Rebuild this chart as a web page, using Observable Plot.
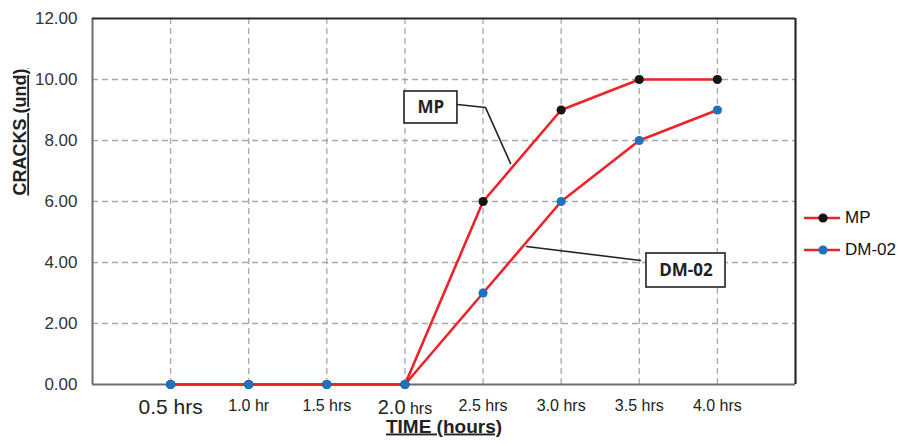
<!DOCTYPE html>
<html>
<head>
<meta charset="utf-8">
<script src="https://cdn.jsdelivr.net/npm/d3@7"></script>
<script src="https://cdn.jsdelivr.net/npm/@observablehq/plot@0.6"></script>
<style>
  html, body { margin: 0; padding: 0; background: #fff; }
  #wrap { position: relative; width: 898px; height: 446px; font-family: "Liberation Sans", Arial, sans-serif; }
  .axtitle text { text-decoration: underline; }
  #legend { position: absolute; left: 803px; top: 202px; font-family: "Liberation Sans", Arial, sans-serif; font-size: 17px; color: #111; }
  #legend .row { display: flex; align-items: center; height: 32px; }
  #legend svg { margin-right: 4px; }
</style>
</head>
<body>
<div id="wrap"></div>
<script>
// ---- data ----
const times = [0.5, 1.0, 1.5, 2.0, 2.5, 3.0, 3.5, 4.0];
const timeLabels = ["0.5 hrs", "1.0 hr", "1.5 hrs", "2.0 hrs", "2.5 hrs", "3.0 hrs", "3.5 hrs", "4.0 hrs"];
const mpValues = [0, 0, 0, 0, 6, 9, 10, 10];
const dm02Values = [0, 0, 0, 0, 3, 6, 8, 9];
const yTicks = [0, 2, 4, 6, 8, 10, 12];
const seriesNames = ["MP", "DM-02"];

// callout annotations (data coordinates)
const calloutLabels = ["MP", "DM-02"];
const calloutX1 = [1.997, 3.546];
const calloutX2 = [2.336, 4.052];
const calloutY1 = [8.557, 3.18];
const calloutY2 = [9.607, 4.295];
const leaderMPx = [2.336, 2.516, 2.676];
const leaderMPy = [9.18, 9.08, 7.246];
const leaderDMx = [3.508, 2.778];
const leaderDMy = [4.066, 4.525];

const mpData = times.map((t, i) => ({t, v: mpValues[i]}));
const dmData = times.map((t, i) => ({t, v: dm02Values[i]}));
const callouts = calloutLabels.map((l, i) => ({l, x1: calloutX1[i], x2: calloutX2[i], y1: calloutY1[i], y2: calloutY2[i]}));
const leaderMP = leaderMPx.map((x, i) => ({x, y: leaderMPy[i]}));
const leaderDM = leaderDMx.map((x, i) => ({x, y: leaderDMy[i]}));

const RED = "#ee2229", BLUE = "#1f72bd", BLACK = "#151515";
const grid = {stroke: "#a8a8a8", strokeWidth: 1.3, strokeDasharray: "6,4", strokeOpacity: 1};

const chart = Plot.plot({
  width: 898,
  height: 446,
  marginTop: 18,
  marginRight: 103,
  marginBottom: 62,
  marginLeft: 92,
  style: {fontFamily: "'Liberation Sans', Arial, sans-serif", background: "#fff", overflow: "visible"},
  x: {type: "linear", domain: [0, 4.5], ticks: times, tickFormat: d => timeLabels[times.indexOf(d)], tickSize: 0, tickPadding: 15, label: null},
  y: {domain: [0, 12], ticks: yTicks, tickFormat: d => d.toFixed(2), tickSize: 0, tickPadding: 15, label: null},
  marks: [
    Plot.ruleX(times, {...grid}),
    Plot.ruleY(yTicks.slice(1, -1), {...grid}),
    Plot.ruleX([0], {stroke: "#6e6e6e", strokeWidth: 2}),
    Plot.ruleY([0], {stroke: "#6e6e6e", strokeWidth: 2}),
    Plot.ruleY([12], {stroke: "#2a2a2a", strokeWidth: 2.2}),
    Plot.ruleX([4.5], {stroke: "#2a2a2a", strokeWidth: 2.2}),
    Plot.line(leaderMP, {x: "x", y: "y", stroke: "#222", strokeWidth: 1.6}),
    Plot.line(leaderDM, {x: "x", y: "y", stroke: "#222", strokeWidth: 1.6}),
    Plot.rect(callouts, {x1: "x1", x2: "x2", y1: "y1", y2: "y2", fill: "#fff", stroke: "#222", strokeWidth: 1.6}),
    Plot.text(callouts, {x: d => (d.x1 + d.x2) / 2, y: d => (d.y1 + d.y2) / 2, text: "l", fontFamily: "'Open Sans', sans-serif", fontWeight: "bold", fontSize: 17, fill: "#222"}),
    Plot.line(mpData, {x: "t", y: "v", stroke: RED, strokeWidth: 2.6}),
    Plot.line(dmData, {x: "t", y: "v", stroke: RED, strokeWidth: 2.6}),
    Plot.dot(mpData, {x: "t", y: "v", r: 4.6, fill: BLACK, stroke: "none"}),
    Plot.dot(dmData, {x: "t", y: "v", r: 4.6, fill: BLUE, stroke: "none"}),
    Plot.text(["CRACKS (und)"], {frameAnchor: "left", dx: -72, dy: -6, rotate: -90, fontWeight: "bold", fontSize: 18, fill: "#222", className: "axtitle"}),
    Plot.text(["TIME (hours)"], {frameAnchor: "bottom", dy: 48, fontWeight: "bold", fontSize: 19, fill: "#222", className: "axtitle"})
  ]
});

document.getElementById("wrap").appendChild(chart);

// style tick labels
const svg = d3.select(chart);
svg.selectAll("text").each(function() {
  const el = d3.select(this);
  const txt = this.textContent;
  if (/^\d+\.00$/.test(txt)) {
    el.attr("font-size", 17).attr("fill", "#333");
  }
  const idx = timeLabels.indexOf(txt);
  if (idx >= 0 && this.children.length === 0) {
    el.attr("fill", "#222");
    if (idx === 0) {
      el.attr("font-size", 21);
    } else if (idx === 3) {
      const [a, b] = txt.split(" ");
      el.text(null).attr("font-size", 20);
      el.append("tspan").text(a);
      el.append("tspan").attr("font-size", 16).text(" " + b);
    } else {
      el.attr("font-size", 16);
    }
  }
});

// legend
const legend = document.createElement("div");
legend.id = "legend";
const legendColors = [BLACK, BLUE];
seriesNames.forEach((name, i) => {
  const row = document.createElement("div");
  row.className = "row";
  const sw = d3.create("svg").attr("width", 38).attr("height", 12);
  sw.append("line").attr("x1", 1).attr("x2", 37).attr("y1", 6).attr("y2", 6).attr("stroke", RED).attr("stroke-width", 2.4);
  sw.append("circle").attr("cx", 20).attr("cy", 6).attr("r", 4.6).attr("fill", legendColors[i]);
  row.appendChild(sw.node());
  const span = document.createElement("span");
  span.textContent = name;
  row.appendChild(span);
  legend.appendChild(row);
});
document.getElementById("wrap").appendChild(legend);
</script>
</body>
</html>
